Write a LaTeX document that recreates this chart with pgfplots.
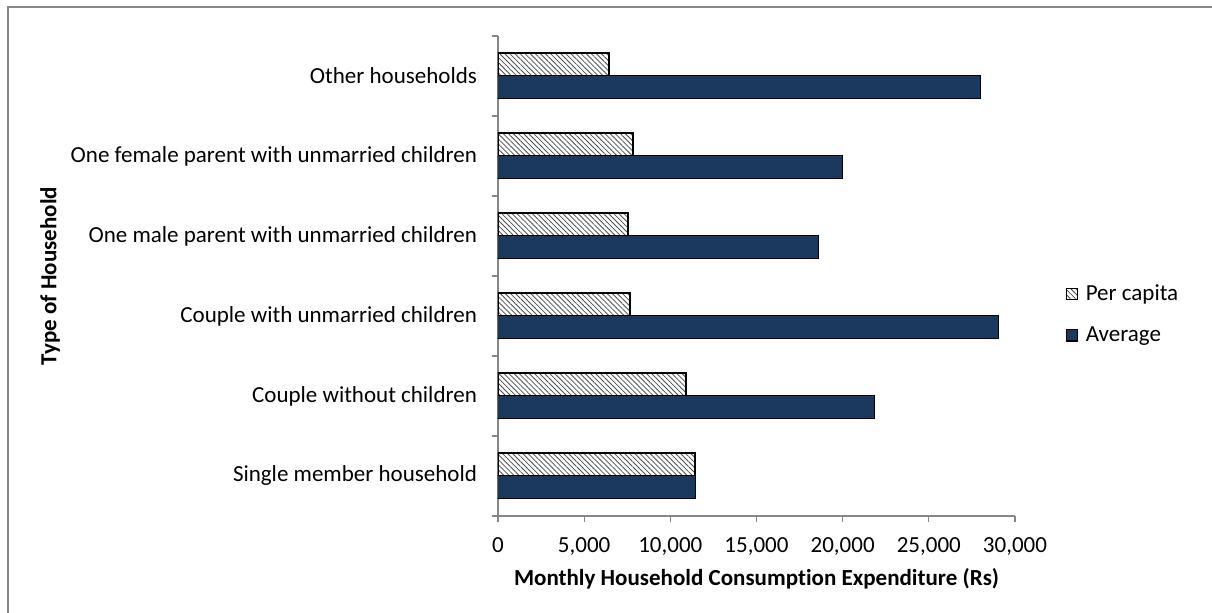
\documentclass[border=0pt]{standalone}
\usepackage{fontspec}
\setmainfont{Carlito}[Ligatures=NoCommon]
\usepackage{pgfplots}
\pgfplotsset{compat=1.18}
\usetikzlibrary{patterns.meta}
\definecolor{navy}{HTML}{1B385D}
\definecolor{axisgray}{HTML}{868686}
\definecolor{framegray}{HTML}{878787}
\newcommand{\fs}{\fontsize{11.5}{14}\selectfont}
\begin{document}
\begin{tikzpicture}
\path[use as bounding box] (0,0) rectangle (606pt,306.5pt);
\draw[framegray, line width=1pt] (3.75pt,0) -- (3.75pt,302.75pt) -- (606pt,302.75pt);
\begin{axis}[
  at={(249pt,48.5pt)}, anchor=south west,
  scale only axis, width=258.5pt, height=240pt,
  xmin=0, xmax=30000, ymin=-0.5, ymax=5.5,
  xbar, bar width=11.5pt,
  axis lines*=left,
  axis line style={axisgray, line width=0.6pt},
  tick style={axisgray, line width=0.6pt},
  tick align=outside, major tick length=3pt,
  xtick={0,5000,...,30000},
  scaled x ticks=false,
  xticklabel style={yshift=-4.5pt, /pgf/number format/fixed, /pgf/number format/1000 sep={,}, /pgf/number format/assume math mode=true},
  ytick={-0.5,0.5,...,5.5}, yticklabels={},
  extra y ticks={0,1,2,3,4,5},
  extra y tick labels={Single member household, Couple without children, Couple with unmarried children, One male parent with unmarried children, One female parent with unmarried children, Other households},
  extra y tick style={major tick length=0pt, tick style={draw=none}, yticklabel style={anchor=east, xshift=-7pt}},
  tick label style={font=\fs, black},
  xlabel={Monthly Household Consumption Expenditure (Rs)},
  ylabel={Type of Household},
  label style={font=\fs\bfseries, black},
  xlabel style={at={(axis description cs:0.5,-0.13)}, anchor=center},
  ylabel style={at={(axis description cs:-0.8665,0.5)}, anchor=center},
  legend style={draw=none, fill=none, at={(rel axis cs:1.097,0.42)}, anchor=west, font=\fs, row sep=7.5pt, inner sep=0pt},
  legend cell align=left,
  legend image code/.code={\draw[#1, line width=0.6pt] (0pt,-2.8pt) rectangle (5.6pt,2.8pt);},
]
\addplot[draw=black, line width=1pt, bar shift=5.75pt,
  pattern={Lines[angle=-45, distance=1.8pt, line width=0.4pt]}, pattern color=black!70]
  coordinates {(11420,0) (10920,1) (7670,2) (7560,3) (7830,4) (6440,5)};
\addlegendentry{\,Per capita}
\addplot[draw=black, line width=0.5pt, fill=navy, bar shift=-5.75pt]
  coordinates {(11440,0) (21830,1) (29020,2) (18600,3) (19980,4) (27980,5)};
\addlegendentry{\,Average}
\end{axis}
\end{tikzpicture}
\end{document}
